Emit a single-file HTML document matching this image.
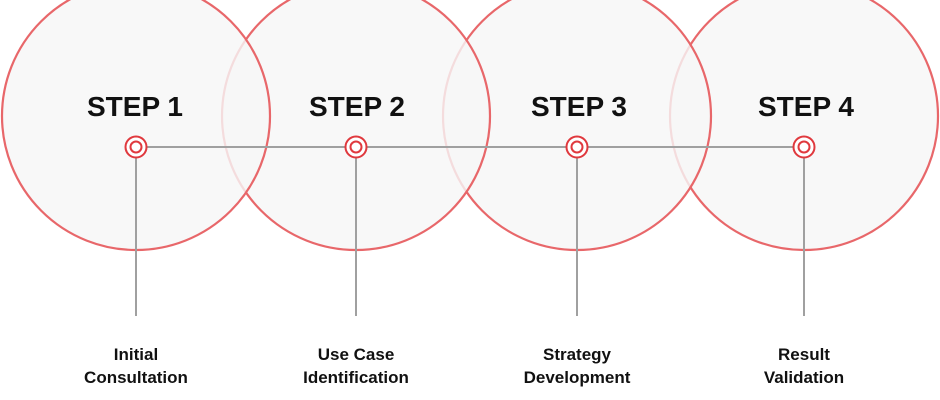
<!DOCTYPE html>
<html><head><meta charset="utf-8"><style>
html,body{margin:0;padding:0;background:#fff;}
svg{display:block;}
</style></head><body>
<svg width="940" height="400" viewBox="0 0 940 400" xmlns="http://www.w3.org/2000/svg" font-family="Liberation Sans, sans-serif">
<g stroke="#e8676a" stroke-width="2.2" fill="rgba(246,246,246,0.82)">
<circle cx="804" cy="116" r="134"/>
<circle cx="577" cy="116" r="134"/>
<circle cx="356" cy="116" r="134"/>
<circle cx="136" cy="116" r="134"/>
</g>
<g stroke="#a0a0a0" stroke-width="2" fill="none">
<line x1="136" y1="147" x2="804" y2="147"/>
<line x1="136" y1="147" x2="136" y2="316"/>
<line x1="356" y1="147" x2="356" y2="316"/>
<line x1="577" y1="147" x2="577" y2="316"/>
<line x1="804" y1="147" x2="804" y2="316"/>
</g>
<g stroke="#e0393e" stroke-width="2" fill="#fff">
<circle cx="136" cy="147" r="10.5"/><circle cx="136" cy="147" r="5.5"/>
<circle cx="356" cy="147" r="10.5"/><circle cx="356" cy="147" r="5.5"/>
<circle cx="577" cy="147" r="10.5"/><circle cx="577" cy="147" r="5.5"/>
<circle cx="804" cy="147" r="10.5"/><circle cx="804" cy="147" r="5.5"/>
</g>
<g font-weight="bold" font-size="28" fill="#111" text-anchor="middle">
<text x="135" y="116">STEP 1</text>
<text x="357" y="116">STEP 2</text>
<text x="579" y="116">STEP 3</text>
<text x="806" y="116">STEP 4</text>
</g>
<g font-weight="bold" font-size="17" fill="#111" text-anchor="middle">
<text x="136" y="360">Initial</text><text x="136" y="383">Consultation</text>
<text x="356" y="360">Use Case</text><text x="356" y="383">Identification</text>
<text x="577" y="360">Strategy</text><text x="577" y="383">Development</text>
<text x="804" y="360">Result</text><text x="804" y="383">Validation</text>
</g>
</svg>
</body></html>
